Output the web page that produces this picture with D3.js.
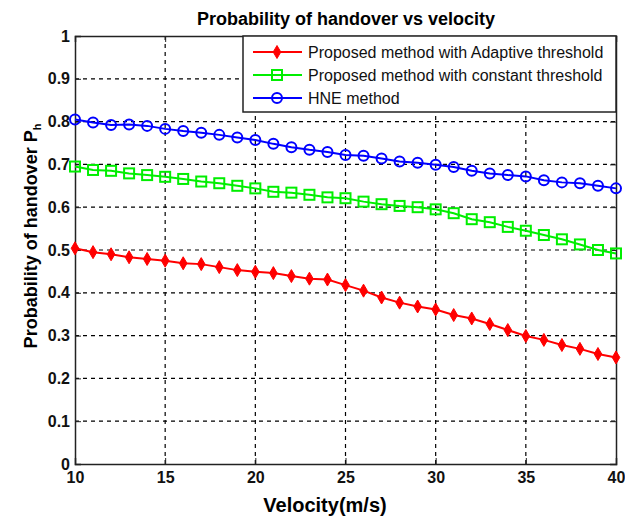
<!DOCTYPE html>
<html>
<head>
<meta charset="utf-8">
<script src="https://cdn.jsdelivr.net/npm/d3@7"></script>
<style>
  body { margin: 0; background: #fff; }
  text { font-family: "Liberation Sans", Arial, sans-serif; }
</style>
</head>
<body>
<svg id="svg1" width="625" height="520"></svg>
<script>
// velocity values (m/s)
var velocity = d3.range(10, 41);

// proposed method with adaptive threshold
var adaptive = [0.504, 0.495, 0.490, 0.483, 0.479, 0.475, 0.469, 0.467, 0.460, 0.453,
  0.449, 0.446, 0.439, 0.433, 0.431, 0.418, 0.405, 0.389, 0.377, 0.368,
  0.361, 0.348, 0.340, 0.327, 0.313, 0.299, 0.290, 0.278, 0.269, 0.257, 0.249];

// proposed method with constant threshold
var constant = [0.695, 0.687, 0.685, 0.679, 0.675, 0.671, 0.666, 0.660, 0.656, 0.650,
  0.644, 0.636, 0.634, 0.629, 0.623, 0.621, 0.613, 0.607, 0.603, 0.600,
  0.595, 0.586, 0.572, 0.565, 0.554, 0.545, 0.535, 0.525, 0.513, 0.500, 0.492];

// HNE method
var hne = [0.805, 0.798, 0.792, 0.793, 0.790, 0.783, 0.778, 0.774, 0.769, 0.763,
  0.757, 0.748, 0.740, 0.734, 0.729, 0.722, 0.720, 0.714, 0.707, 0.704,
  0.699, 0.694, 0.685, 0.679, 0.675, 0.672, 0.663, 0.658, 0.656, 0.650, 0.644];

var xTicks = [10, 15, 20, 25, 30, 35, 40];
var yTicks = [0, 0.1, 0.2, 0.3, 0.4, 0.5, 0.6, 0.7, 0.8, 0.9, 1];
var seriesNames = ['Proposed method with Adaptive threshold',
  'Proposed method with constant threshold', 'HNE method'];

var pLeft = 75, pRight = 616, pTop = 36, pBottom = 464;

var svg = d3.select('svg');

var x = d3.scaleLinear().domain([10, 40]).range([pLeft, pRight]);
var y = d3.scaleLinear().domain([0, 1]).range([pBottom, pTop]);

// grid
var grid = svg.append('g');
grid.selectAll('.gx')
    .data(xTicks.slice(1, -1))
    .enter().append('line')
    .attr('x1', function(d){ return x(d); })
    .attr('x2', function(d){ return x(d); })
    .attr('y1', pTop).attr('y2', pBottom)
    .attr('stroke', '#000').attr('stroke-width', 1.2)
    .attr('stroke-dasharray', '4,4');
grid.selectAll('.gy')
    .data(yTicks.slice(1, -1))
    .enter().append('line')
    .attr('y1', function(d){ return y(d); })
    .attr('y2', function(d){ return y(d); })
    .attr('x1', pLeft).attr('x2', pRight)
    .attr('stroke', '#000').attr('stroke-width', 1.2)
    .attr('stroke-dasharray', '4,4');

// axes (inward ticks like matlab)
var xAxis = d3.axisBottom(x).tickValues(xTicks).tickSize(-6).tickPadding(8);
var yAxis = d3.axisLeft(y).tickValues(yTicks).tickSize(-6).tickPadding(5)
    .tickFormat(function(d){ return d === 0 ? '0' : d3.format('')(d); });

svg.append('g').attr('transform', 'translate(0,' + pBottom + ')').call(xAxis);
svg.append('g').attr('transform', 'translate(' + pLeft + ',0)').call(yAxis);
svg.append('g').attr('transform', 'translate(0,' + pTop + ')')
    .call(d3.axisTop(x).tickValues(xTicks).tickSize(-6).tickFormat(''));
svg.append('g').attr('transform', 'translate(' + pRight + ',0)')
    .call(d3.axisRight(y).tickValues(yTicks).tickSize(-6).tickFormat(''));

svg.selectAll('.domain').attr('stroke', '#222').attr('stroke-width', 1.5);
svg.selectAll('.tick line').attr('stroke', '#222');
svg.selectAll('.tick text')
    .attr('font-size', 16).attr('font-weight', 'bold')
    .attr('fill', '#111').attr('font-family', '"Liberation Sans", Arial, sans-serif');

// lines
var line = d3.line()
    .x(function(d, i){ return x(velocity[i]); })
    .y(function(d){ return y(d); });

var series = [
  {values: adaptive, color: '#ff0000', marker: 'diamond'},
  {values: constant, color: '#00ee00', marker: 'square'},
  {values: hne, color: '#0000ff', marker: 'circle'}
];

function drawMarker(g, type, color) {
  if (type === 'diamond') {
    g.append('path').attr('d', 'M0,-6.5L3.8,0L0,6.5L-3.8,0Z')
        .attr('fill', color).attr('stroke', color).attr('stroke-width', 1);
  } else if (type === 'square') {
    g.append('rect').attr('x', -5).attr('y', -5).attr('width', 10).attr('height', 10)
        .attr('fill', 'none').attr('stroke', color).attr('stroke-width', 2);
  } else {
    g.append('circle').attr('r', 5)
        .attr('fill', 'none').attr('stroke', color).attr('stroke-width', 2);
  }
}

series.forEach(function(s){
  svg.append('path')
      .attr('d', line(s.values))
      .attr('fill', 'none')
      .attr('stroke', s.color)
      .attr('stroke-width', 2);
  s.values.forEach(function(v, i){
    var g = svg.append('g')
        .attr('transform', 'translate(' + x(velocity[i]) + ',' + y(v) + ')');
    drawMarker(g, s.marker, s.color);
  });
});

// legend
var legend = svg.append('g');
legend.append('rect')
    .attr('x', 243).attr('y', pTop).attr('width', pRight - 243).attr('height', 76)
    .attr('fill', '#fff').attr('stroke', '#222').attr('stroke-width', 1.5);
series.forEach(function(s, i){
  var ly = 52 + i * 23;
  legend.append('line')
      .attr('x1', 253).attr('x2', 302).attr('y1', ly).attr('y2', ly)
      .attr('stroke', s.color).attr('stroke-width', 2);
  var g = legend.append('g').attr('transform', 'translate(277,' + ly + ')');
  drawMarker(g, s.marker, s.color);
  legend.append('text')
      .attr('x', 308).attr('y', ly + 6)
      .attr('font-size', 16).attr('fill', '#111')
      .text(seriesNames[i]);
});

// title and labels
svg.append('text')
    .attr('x', 346).attr('y', 25)
    .attr('text-anchor', 'middle')
    .attr('font-size', 18).attr('font-weight', 'bold')
    .text('Probability of handover vs velocity');

svg.append('text')
    .attr('x', 325).attr('y', 512)
    .attr('text-anchor', 'middle')
    .attr('font-size', 20).attr('font-weight', 'bold')
    .text('Velocity(m/s)');

var yl = svg.append('text')
    .attr('transform', 'translate(37,236) rotate(-90)')
    .attr('text-anchor', 'middle')
    .attr('font-size', 18).attr('font-weight', 'bold');
yl.append('tspan').text('Probability of handover P');
yl.append('tspan').attr('font-size', 11).attr('dy', 4).text('h');
</script>
</body>
</html>
